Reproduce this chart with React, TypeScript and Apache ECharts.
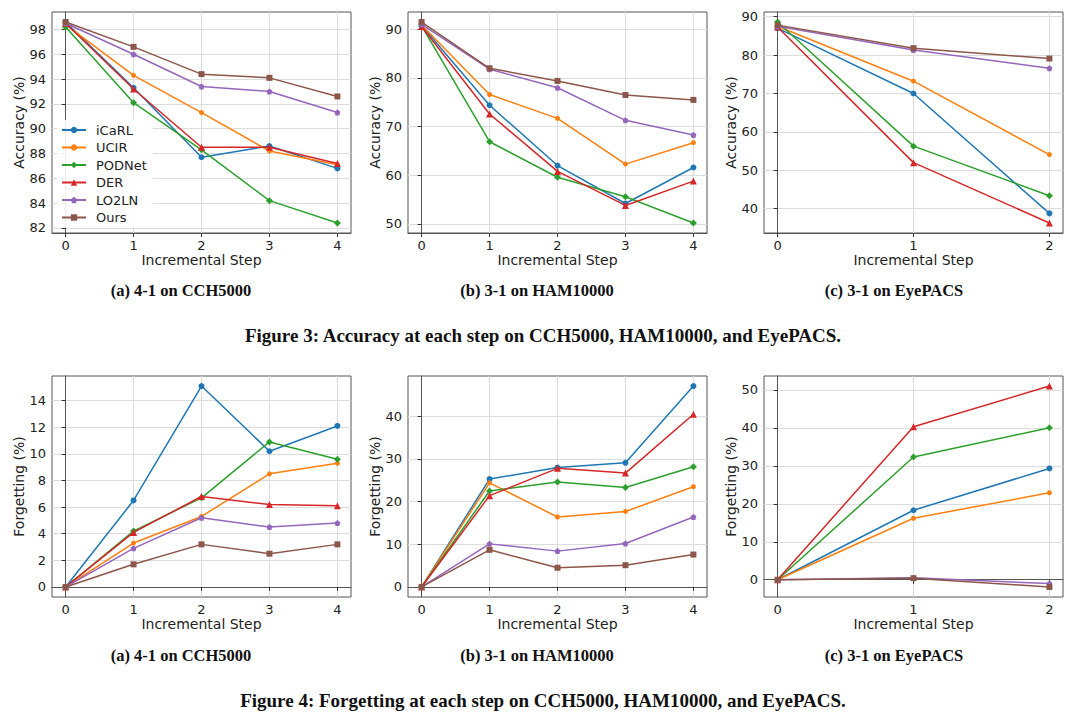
import React, { useEffect, useRef } from "react";
import * as echarts from "echarts";

const methods = ["iCaRL", "UCIR", "PODNet", "DER", "LO2LN", "Ours"];
const colors = ["#1f77b4", "#ff7f0e", "#2ca02c", "#d62728", "#9467bd", "#8c564b"];
const pentagon = "path://M0,-1L0.951,-0.309L0.588,0.809L-0.588,0.809L-0.951,-0.309Z";
const symbols = ["circle", "circle", "diamond", "triangle", pentagon, "rect"];
const symbolSizes = [6, 5, 7, 7, 6, 6];

const steps5 = [0, 1, 2, 3, 4];
const steps3 = [0, 1, 2];

// rows follow `methods` order
const accCCH5000 = [
  [98.6, 93.3, 87.7, 88.6, 86.8],
  [98.4, 94.3, 91.3, 88.2, 87.1],
  [98.2, 92.1, 88.3, 84.2, 82.4],
  [98.5, 93.2, 88.5, 88.5, 87.2],
  [98.5, 96.0, 93.4, 93.0, 91.3],
  [98.6, 96.6, 94.4, 94.1, 92.6],
];
const accHAM10000 = [
  [90.8, 74.4, 62.0, 54.2, 61.6],
  [90.9, 76.6, 71.7, 62.3, 66.7],
  [90.7, 66.9, 59.6, 55.6, 50.2],
  [90.6, 72.6, 60.8, 53.8, 58.8],
  [91.0, 81.8, 78.0, 71.3, 68.3],
  [91.5, 82.0, 79.4, 76.5, 75.5],
];
const accEyePACS = [
  [87.0, 70.0, 38.8],
  [87.5, 73.2, 54.1],
  [88.6, 56.3, 43.4],
  [87.3, 52.0, 36.3],
  [87.5, 81.3, 76.6],
  [87.8, 81.8, 79.1],
];
const fgtCCH5000 = [
  [0, 6.5, 15.1, 10.2, 12.1],
  [0, 3.3, 5.3, 8.5, 9.3],
  [0, 4.2, 6.7, 10.9, 9.6],
  [0, 4.1, 6.8, 6.2, 6.1],
  [0, 2.9, 5.2, 4.5, 4.8],
  [0, 1.7, 3.2, 2.5, 3.2],
];
const fgtHAM10000 = [
  [0, 25.3, 28.0, 29.1, 47.1],
  [0, 24.4, 16.4, 17.7, 23.5],
  [0, 22.5, 24.6, 23.3, 28.2],
  [0, 21.4, 27.8, 26.7, 40.5],
  [0, 10.1, 8.4, 10.2, 16.4],
  [0, 8.7, 4.5, 5.1, 7.6],
];
const fgtEyePACS = [
  [0, 18.3, 29.3],
  [0, 16.2, 22.9],
  [0, 32.3, 40.0],
  [0, 40.3, 51.0],
  [0, 0.5, -1.0],
  [0, 0.4, -1.9],
];

const ticksAccCCH = [82, 84, 86, 88, 90, 92, 94, 96, 98];
const ticksAccHAM = [50, 60, 70, 80, 90];
const ticksAccEye = [40, 50, 60, 70, 80, 90];
const ticksFgtCCH = [0, 2, 4, 6, 8, 10, 12, 14];
const ticksFgtHAM = [0, 10, 20, 30, 40];
const ticksFgtEye = [0, 10, 20, 30, 40, 50];

const subcaptions = [
  "(a) 4-1 on CCH5000",
  "(b) 3-1 on HAM10000",
  "(c) 3-1 on EyePACS",
];
const captions = [
  "Figure 3: Accuracy at each step on CCH5000, HAM10000, and EyePACS.",
  "Figure 4: Forgetting at each step on CCH5000, HAM10000, and EyePACS.",
];

const panels = [
  { data: accCCH5000, steps: steps5, ticks: ticksAccCCH, yName: "Accuracy (%)" },
  { data: accHAM10000, steps: steps5, ticks: ticksAccHAM, yName: "Accuracy (%)" },
  { data: accEyePACS, steps: steps3, ticks: ticksAccEye, yName: "Accuracy (%)" },
  { data: fgtCCH5000, steps: steps5, ticks: ticksFgtCCH, yName: "Forgetting (%)" },
  { data: fgtHAM10000, steps: steps5, ticks: ticksFgtHAM, yName: "Forgetting (%)" },
  { data: fgtEyePACS, steps: steps3, ticks: ticksFgtEye, yName: "Forgetting (%)" },
];

const colLeft = [52, 408, 764];
const rowTop = [12, 376];
const plotW = 299;
const plotH = 221;
const subCapX = [181, 537, 894];
const subCapY = [290, 655];
const capY = [335, 700];

const SANS = '"DejaVu Sans", sans-serif';
const SERIF = '"Liberation Serif", "DejaVu Serif", serif';

function buildOption() {
  const grid: any[] = [];
  const xAxis: any[] = [];
  const yAxis: any[] = [];
  const series: any[] = [];
  const graphic: any[] = [];

  panels.forEach((p, i) => {
    const col = i % 3;
    const row = Math.floor(i / 3);
    grid.push({
      left: colLeft[col],
      top: rowTop[row],
      width: plotW,
      height: plotH,
      show: true,
      borderColor: "#555",
      borderWidth: 1,
      backgroundColor: "transparent",
    });
    const n = p.steps[p.steps.length - 1];
    xAxis.push({
      type: "value",
      gridIndex: i,
      min: -0.05 * n,
      max: n * 1.05,
      axisLine: { show: true, lineStyle: { color: "#555" } },
      axisTick: { show: true, customValues: p.steps, length: 4, lineStyle: { color: "#333" } },
      axisLabel: { customValues: p.steps, fontSize: 13, color: "#222", fontFamily: SANS, margin: 6 },
      splitLine: { show: true, lineStyle: { color: "#dcdcdc", width: 1 } },
      name: "Incremental Step",
      nameLocation: "middle",
      nameGap: 19,
      nameTextStyle: { fontSize: 14, color: "#222", fontFamily: SANS },
    });
    const all = p.data.flat();
    const dMin = Math.min(...all);
    const dMax = Math.max(...all);
    const pad = 0.05 * (dMax - dMin);
    yAxis.push({
      type: "value",
      gridIndex: i,
      min: dMin - pad,
      max: dMax + pad,
      axisLine: { show: true, lineStyle: { color: "#555" } },
      axisTick: { show: true, customValues: p.ticks, length: 4, lineStyle: { color: "#333" } },
      axisLabel: { customValues: p.ticks, fontSize: 13, color: "#222", fontFamily: SANS, margin: 6 },
      splitLine: { show: true, lineStyle: { color: "#dcdcdc", width: 1 } },
      name: p.yName,
      nameLocation: "middle",
      nameGap: 24,
      nameTextStyle: { fontSize: 14, color: "#222", fontFamily: SANS },
    });
    p.data.forEach((vals, m) => {
      series.push({
        type: "line",
        name: methods[m],
        xAxisIndex: i,
        yAxisIndex: i,
        data: vals.map((v, k) => [p.steps[k], v]),
        symbol: symbols[m],
        symbolSize: symbolSizes[m],
        showAllSymbol: true,
        lineStyle: { color: colors[m], width: 1.5 },
        itemStyle: { color: colors[m], borderWidth: 0 },
        emphasis: { disabled: true },
        z: 2 + m * 0.01,
      });
    });
    graphic.push({
      type: "text",
      x: subCapX[col],
      y: subCapY[row],
      style: {
        text: subcaptions[col],
        font: `bold 16.5px ${SERIF}`,
        fill: "#111",
        textAlign: "center",
        textVerticalAlign: "middle",
      },
    });
  });

  captions.forEach((c, r) => {
    graphic.push({
      type: "text",
      x: 543,
      y: capY[r],
      style: {
        text: c,
        font: `bold 19px ${SERIF}`,
        fill: "#111",
        textAlign: "center",
        textVerticalAlign: "middle",
      },
    });
  });

  return {
    animation: false,
    backgroundColor: "#fff",
    color: colors,
    grid,
    xAxis,
    yAxis,
    series,
    graphic,
    legend: {
      data: methods,
      orient: "vertical",
      left: 57,
      top: 120,
      padding: [3, 6, 3, 4],
      itemWidth: 24,
      itemHeight: 8,
      itemGap: 3.5,
      backgroundColor: "rgba(255,255,255,0.9)",
      borderWidth: 0,
      borderRadius: 3,
      textStyle: { fontSize: 13, color: "#222", fontFamily: SANS, lineHeight: 14, padding: [0, 0, 0, 5] },
      selectedMode: false,
    },
  };
}

export default function App() {
  const ref = useRef<HTMLDivElement>(null);
  useEffect(() => {
    if (!ref.current) return;
    const chart = echarts.init(ref.current, undefined, { renderer: "svg" });
    chart.setOption(buildOption() as any);
    return () => chart.dispose();
  }, []);
  return (
    <div
      ref={ref}
      style={{ position: "absolute", left: 0, top: 0, width: 1080, height: 719, background: "#fff" }}
    />
  );
}
